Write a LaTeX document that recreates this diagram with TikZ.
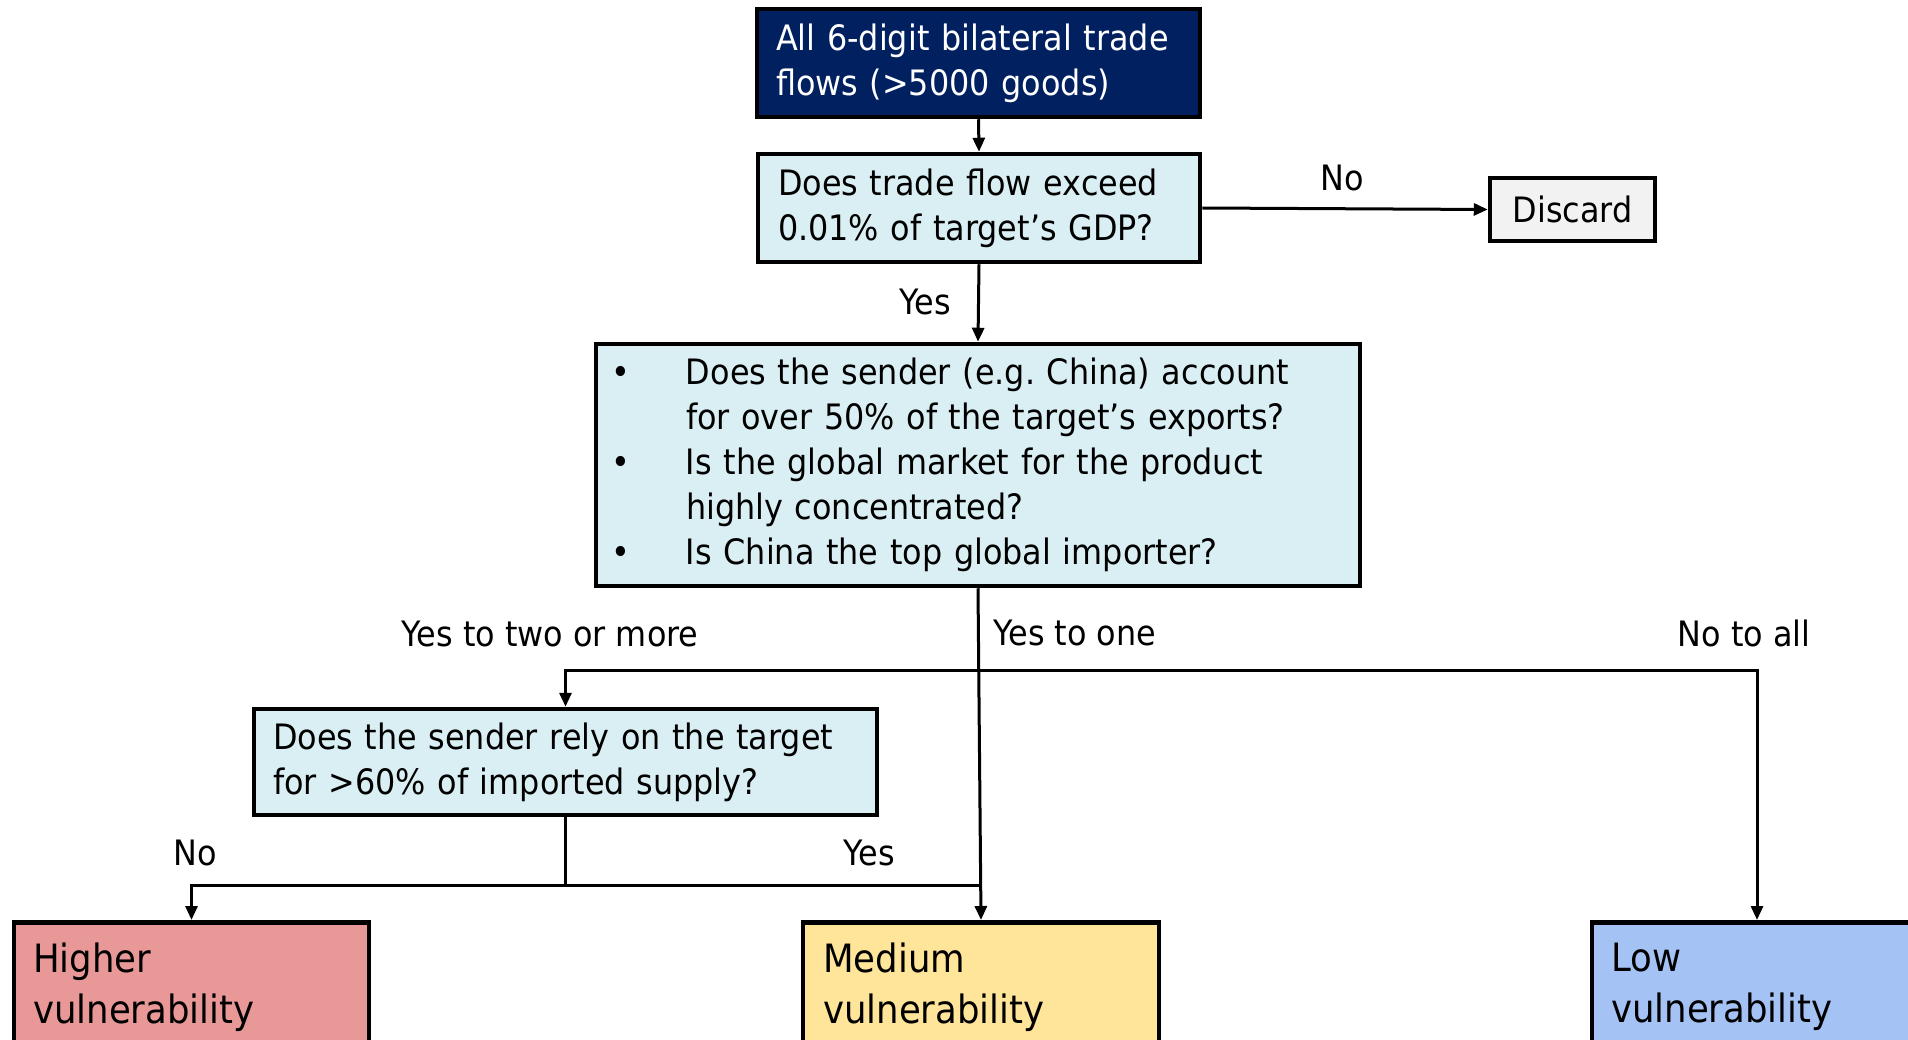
\documentclass[tikz,border=0pt]{standalone}
\usepackage{fontspec}
\setmainfont{DejaVu Sans}[FakeStretch=0.91]
\usetikzlibrary{arrows.meta,calc}
\definecolor{navy}{RGB}{0,32,96}
\definecolor{qcyan}{RGB}{218,239,243}
\definecolor{discgray}{RGB}{242,242,242}
\definecolor{hired}{RGB}{233,152,152}
\definecolor{medyel}{RGB}{255,229,153}
\definecolor{lowblue}{RGB}{164,194,244}
\frenchspacing
\begin{document}
\begin{tikzpicture}[x=1pt,y=-1pt,
  box/.style={draw=black, line width=4.5pt, align=left, inner ysep=0pt},
  arr/.style={line width=3pt, -{Triangle[length=14pt,width=12pt]}},
  ln/.style={line width=3pt},
  txt/.style={font=\fontsize{35}{45}\selectfont},
  lbl/.style={font=\fontsize{35}{40}\selectfont, inner sep=0pt},
  bigtxt/.style={font=\fontsize{39}{51}\selectfont, inner sep=0pt, align=left, anchor=north west},
]
\clip (0,0) rectangle (1908,1040);

\node[box, fill=navy, text=white, txt, text width=405pt, inner xsep=19pt, minimum height=108pt] (top) at (978.5,63) {All 6-digit bilateral trade\\flows (>5000 goods)};

\node[box, fill=qcyan, txt, text width=402pt, inner xsep=20pt, minimum height=108pt] (q1) at (979,208) {Does trade flow exceed\\0.01\% of target’s GDP?};

\node[box, fill=discgray, txt, align=center, minimum width=165pt, minimum height=63pt, inner sep=0pt] (disc) at (1572.5,209.5) {Discard};

\node[box, fill=qcyan, txt, text width=764pt, inner xsep=0pt, minimum height=242pt] (q2) at (978,465) {\makebox[90pt][l]{\makebox[50pt][c]{•}}Does the sender (e.g. China) account\\
\hspace*{90pt}for over 50\% of the target’s exports?\\
\makebox[90pt][l]{\makebox[50pt][c]{•}}Is the global market for the product\\
\hspace*{90pt}highly concentrated?\\
\makebox[90pt][l]{\makebox[50pt][c]{•}}Is China the top global importer?};

\node[box, fill=qcyan, txt, text width=585pt, inner xsep=19pt, minimum height=106pt] (q3) at (565.5,762) {Does the sender rely on the target\\for >60\% of imported supply?};

\node[box, fill=hired, minimum width=355pt, minimum height=200pt, anchor=north] (hi) at (191.5,920) {};
\node[box, fill=medyel, minimum width=356pt, minimum height=200pt, anchor=north] (med) at (981,920) {};
\node[box, fill=lowblue, minimum width=330pt, minimum height=200pt, anchor=north] (low) at (1757,920) {};

\node[bigtxt] (hitxt) at (33,943) {Higher\\vulnerability};
\node[bigtxt] (medtxt) at (823,943) {Medium\\vulnerability};
\node[bigtxt] (lowtxt) at (1611,943) {Low\\vulnerability};

\node[lbl] (lno1) at (1342,178) {No};
\node[lbl] (lyes1) at (925,302) {Yes};
\node[lbl] (ltwo) at (550,634) {Yes to two or more};
\node[lbl, anchor=west] (lone) at (993,633) {Yes to one};
\node[lbl] (lall) at (1744,633) {No to all};
\node[lbl] (lno2) at (195,853) {No};
\node[lbl] (lyes2) at (869,853) {Yes};

\draw[arr] (top.south) -- (q1.north);
\draw[arr] (q1.south) -- (q2.north);
\draw[arr] (q1.east) -- (disc.west);

\coordinate (j1) at (978,670);
\coordinate (j2) at (565.5,885);
\coordinate (j3) at (980.5,885);

\draw[arr] (q2.south) -- (med.north);
\draw[arr] (j1) -| (q3.north);
\draw[arr] (j1) -| (low.north);
\draw[ln] (q3.south) -- (j2);
\draw[arr] (j2) -| (hi.north);
\draw[ln] (j2) -- (j3);
\end{tikzpicture}
\end{document}
